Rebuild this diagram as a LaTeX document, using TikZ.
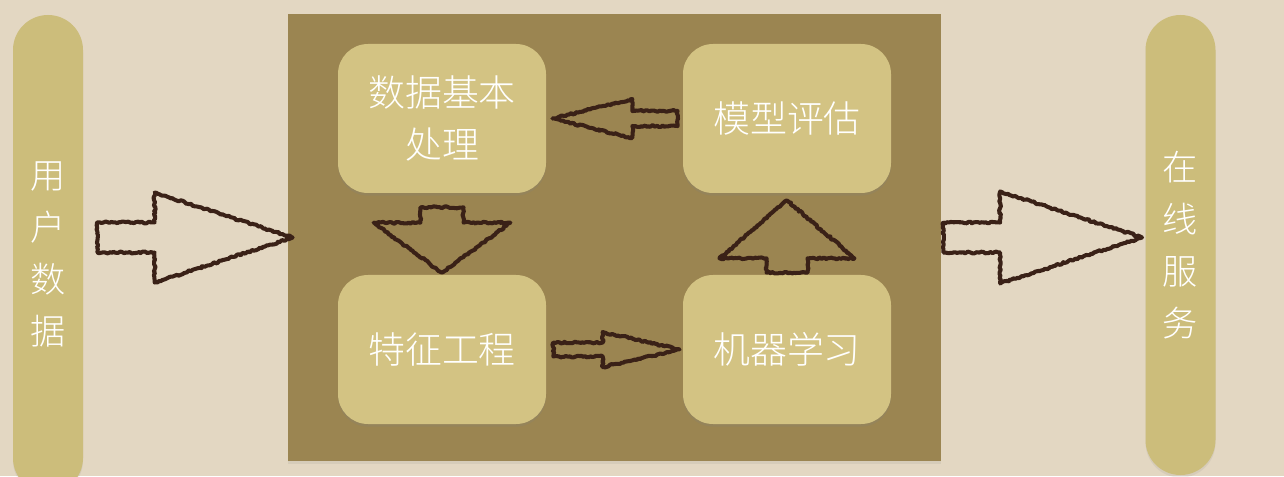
\documentclass[tikz,border=0pt]{standalone}
\usepackage{fontspec}
\usepackage{xcolor}
\usepackage{tikz}
\usetikzlibrary{calc}
\usetikzlibrary{shadows}
\usetikzlibrary{decorations.pathmorphing}
\newfontfamily\cjk{Noto Sans CJK SC Light}

\definecolor{paper}{HTML}{E3D7C2}
\definecolor{pillcol}{HTML}{CCBD7B}
\definecolor{framecol}{HTML}{9B8551}
\definecolor{boxcol}{HTML}{D3C383}
\definecolor{inkcol}{HTML}{3A2117}

\tikzset{
  pill/.style={rounded corners=0.7cm, fill=pillcol, minimum width=1.4cm, inner sep=0pt,
    text=white, align=center, font=\cjk\fontsize{20}{29.6}\selectfont,
    drop shadow={shadow xshift=0pt, shadow yshift=-1.5pt, opacity=0.12}},
  stagebox/.style={rounded corners=0.6cm, fill=boxcol, minimum width=4.16cm, minimum height=2.98cm,
    text=white, align=center, font=\cjk\fontsize{21}{29.6}\selectfont,
    drop shadow={shadow xshift=0pt, shadow yshift=-1.5pt, opacity=0.2}},
  sketch/.style={draw=inkcol, line width=2.3pt, line join=round,
    decorate, decoration={random steps, segment length=1.1pt, amplitude=0.55pt}}
}

% #1 tail, #2 tip, #3 half shaft, #4 half head, #5 head length
\newcommand{\sketcharrow}[5]{%
  \coordinate (ha) at ($(#2)!#5!(#1)$);%
  \draw [sketch] ($(#1)!#3!90:(#2)$) -- ($(ha)!#3!-90:(#1)$) -- ($(ha)!#4!-90:(#1)$)
    -- (#2) -- ($(ha)!#4!90:(#1)$) -- ($(ha)!#3!90:(#1)$) -- ($(#1)!#3!-90:(#2)$) -- cycle;%
}

\begin{document}
\begin{tikzpicture}
            \pgfmathsetseed{7}
            \useasboundingbox (0,0) rectangle (25.68,9.52);
            \clip (0,0) rectangle (25.68,9.52);
            \fill [paper] (0,0) rectangle (25.68,9.52);%

            % Side pills
            \node [pill, minimum height=9.56cm] (user) at (0.96,4.44) {用\\户\\数\\据};%
            \node [pill, minimum height=9.20cm] (serve) at (23.61,4.62) {在\\线\\服\\务};%

            % Pipeline frame
            \node [fill=framecol, minimum width=13.06cm, minimum height=8.94cm, inner sep=0pt,
              drop shadow={shadow xshift=0pt, shadow yshift=-1.5pt, opacity=0.12}] (pipe) at (12.29,4.77) {};%

            % Stage boxes
            \node [stagebox] (clean) at (8.84,7.15) {数据基本\\处理};%
            \node [stagebox] (eval) at (15.74,7.15) {模型评估};%
            \node [stagebox] (feat) at (8.84,2.53) {特征工程};%
            \node [stagebox] (learn) at (15.74,2.53) {机器学习};%

            % Arrow user -> pipe
            \coordinate (in-s) at ($(user.east |- pipe.west)+(0.28,0)$);%
            \coordinate (in-e) at ($(pipe.west)+(0.10,0)$);%
            \sketcharrow{in-s}{in-e}{0.30cm}{0.90cm}{2.76cm}

            % Arrow pipe -> serve
            \coordinate (out-s) at ($(pipe.east)+(0.04,0)$);%
            \coordinate (out-e) at ($(serve.west |- pipe.east)+(-0.06,0)$);%
            \sketcharrow{out-s}{out-e}{0.30cm}{0.92cm}{2.84cm}

            % Arrow clean -> feat
            \coordinate (cf-s) at ($(clean.south)+(0,-0.28)$);%
            \coordinate (cf-e) at ($(feat.north)+(0,0.04)$);%
            \sketcharrow{cf-s}{cf-e}{0.43cm}{1.37cm}{1.00cm}

            % Arrow feat -> learn
            \coordinate (fl-s) at ($(feat.east)+(0.14,0)$);%
            \coordinate (fl-e) at ($(learn.west)+(-0.06,0)$);%
            \sketcharrow{fl-s}{fl-e}{0.14cm}{0.35cm}{1.54cm}

            % Arrow learn -> eval
            \coordinate (le-s) at ($(learn.north)+(0,0.04)$);%
            \coordinate (le-e) at ($(eval.south)+(0,-0.14)$);%
            \sketcharrow{le-s}{le-e}{0.41cm}{1.35cm}{1.16cm}

            % Arrow eval -> clean
            \coordinate (ec-s) at ($(eval.west)+(-0.10,0)$);%
            \coordinate (ec-e) at ($(clean.east)+(0.12,0)$);%
            \sketcharrow{ec-s}{ec-e}{0.15cm}{0.39cm}{1.60cm}
        \end{tikzpicture}
\end{document}
